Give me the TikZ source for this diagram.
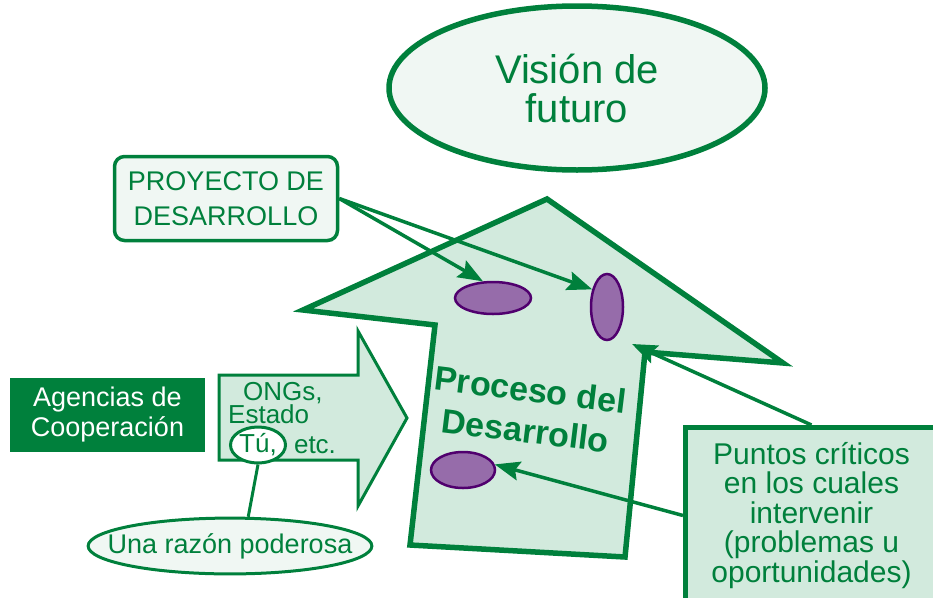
\documentclass[tikz,border=0pt]{standalone}
\usepackage{fontspec}
\setmainfont{Liberation Sans}
\usetikzlibrary{shapes.geometric,arrows.meta}
\definecolor{verde}{RGB}{0,128,60}
\definecolor{verdeclaro}{RGB}{210,234,221}
\definecolor{verdepalido}{RGB}{240,247,243}
\definecolor{morado}{RGB}{150,108,170}
\definecolor{moradoosc}{RGB}{80,0,110}
\tikzset{
  punto/.style={ellipse,draw=moradoosc,fill=morado,line width=2.5pt,inner sep=0pt},
  flechita/.style={-{Stealth[length=25pt,width=19pt,inset=4pt]},line width=3.5pt,verde},
  letra/.style={text=verde,align=center}
}
\begin{document}
\begin{tikzpicture}[x=1pt,y=-1pt]
                    \useasboundingbox (0,0) rectangle (933,597);

                    \draw[line width=5.5pt,verde,fill=verdeclaro] (547,199) -- (783,363) -- (645,352) -- (625,557) -- (410,545) -- (435,325) -- (303,310) -- cycle;
                    \draw[line width=3pt,verde,fill=verdeclaro] (219,375) -- (358,375) -- (358,331) -- (407,418) -- (358,506) -- (358,460) -- (219,460) -- cycle;

                    \node[ellipse,draw=verde,line width=5.5pt,fill=verdepalido,minimum width=376pt,minimum height=164pt,inner sep=0pt,letra,font=\fontsize{40}{39}\selectfont] (vision) at (577,88) {Visión de\\futuro};
                    \node[draw=verde,line width=3.5pt,fill=verdepalido,rounded corners=10pt,minimum width=223pt,minimum height=84pt,letra,font=\fontsize{27}{35}\selectfont] (proyecto) at (226,198.5) {PROYECTO DE\\DESARROLLO};
                    \node[fill=verde,text=white,minimum width=195pt,minimum height=74pt,align=center,font=\fontsize{27}{30}\selectfont] (agencias) at (107.5,415) {Agencias de\\Cooperación};

                    \node[anchor=base west,align=left,text=verde,inner sep=0pt,font=\fontsize{26}{23}\selectfont] (ongs) at (228,423) {\hspace{15pt}ONGs,\\Estado};
                    \node[ellipse,draw=verde,fill=white,line width=3pt,minimum width=55pt,minimum height=36pt,inner sep=0pt,letra,font=\fontsize{26}{26}\selectfont] (tu) at (258,445) {Tú,};
                    \node[anchor=base,inner sep=0pt,letra,font=\fontsize{26}{26}\selectfont] (etc) at (315,453) {etc.};
                    \node[ellipse,draw=verde,fill=verdepalido,line width=3pt,inner xsep=-22pt,inner ysep=7pt,letra,font=\fontsize{27}{27}\selectfont] (razon) at (230,546) {Una razón poderosa};
                    \draw[verde,line width=3pt] (tu.south) -- (razon.58);

                    \node[rotate=-7,letra,font=\bfseries\fontsize{34}{41}\selectfont] (proceso) at (528,410) {Proceso del\\Desarrollo};

                    \node[punto,minimum width=76pt,minimum height=32pt] (pc1) at (493,298) {};
                    \node[punto,minimum width=32pt,minimum height=66pt] (pc2) at (607,307) {};
                    \node[punto,minimum width=64pt,minimum height=36pt] (pc3) at (463,470) {};

                    \node[draw=verde,line width=5pt,fill=verdeclaro,minimum width=252pt,minimum height=176pt,anchor=north west,letra,font=\fontsize{30}{29.5}\selectfont] (puntos) at (683,425) {Puntos críticos\\en los cuales\\intervenir\\(problemas u\\oportunidades)};
                    \coordinate (esquina) at (632,344);

                    \draw[flechita] (proyecto.east) -- (pc1.121);
                    \draw[flechita] (proyecto.east) -- (pc2.130);
                    \draw[flechita] (puntos.north) -- (esquina);
                    \draw[flechita] (puntos.west) -- (pc3.10);
                \end{tikzpicture}
\end{document}
